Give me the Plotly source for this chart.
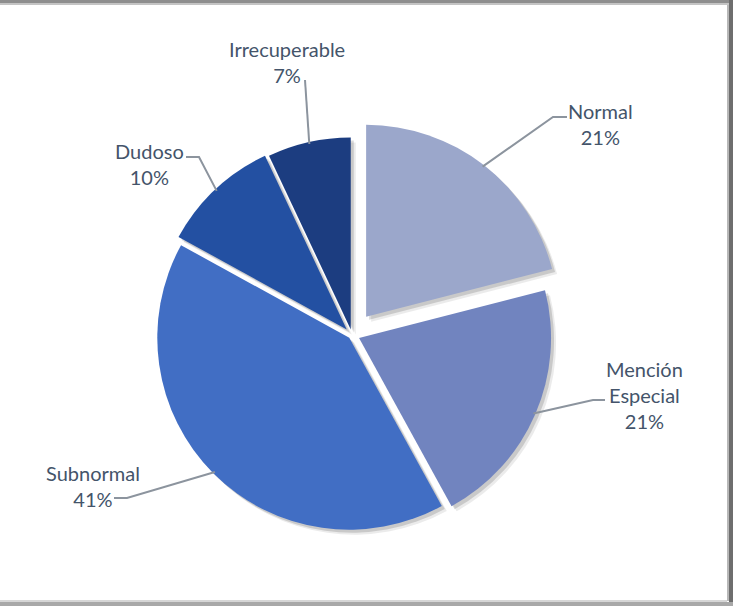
import math
import plotly.graph_objects as go

# data
categories = ["Normal", "Mención Especial", "Subnormal", "Dudoso", "Irrecuperable"]
label_text = ["Normal<br>21%", "Mención<br>Especial<br>21%", "Subnormal<br>41%", "Dudoso<br>10%", "Irrecuperable<br>7%"]
shares = [21, 21, 41, 10, 7]

colors = ["#9ba7cb", "#7184bf", "#416ec4", "#2350a2", "#1c3d80"]
pulls = [0.12, 0.04, 0.02, 0.04, 0.03]

W, H = 733, 606
CX, CY = 352, 335          # pie centre in pixels
R = 192                    # pie radius in pixels
maxpull = max(pulls)
half = R * (1 + maxpull)

def px(x):
    return x / W

def py(y):
    return 1 - y / H

dom_x = [px(CX - half), px(CX + half)]
dom_y = [py(CY + half), py(CY - half)]

fig = go.Figure()

# soft shadow behind the slices
for off, alpha in [(5, 0.08), (3, 0.14)]:
    fig.add_trace(go.Pie(
        values=shares, labels=categories, sort=False, direction="clockwise",
        rotation=0, pull=pulls, textinfo="none", hoverinfo="skip",
        marker=dict(colors=[f"rgba(0,0,0,{alpha})"] * len(shares), line=dict(width=0)),
        domain=dict(x=[px(CX - half + off), px(CX + half + off)],
                    y=[py(CY + half + off), py(CY - half + off)]),
        showlegend=False,
    ))

fig.add_trace(go.Pie(
    values=shares, labels=categories, sort=False, direction="clockwise",
    rotation=0, pull=pulls, textinfo="none",
    marker=dict(colors=colors, line=dict(width=0)),
    domain=dict(x=dom_x, y=dom_y),
    showlegend=False,
))

# label placement: text centre, start and elbow of the leader line
label_pos = {
    "Normal": dict(x=600, y=124, start=(567, 117), elbow=(553, 117)),
    "Mención Especial": dict(x=644, y=395, start=(605, 400), elbow=(593, 400)),
    "Subnormal": dict(x=93, y=486, start=(114, 498), elbow=(127, 498)),
    "Dudoso": dict(x=149, y=164, start=(186, 157), elbow=(199, 157)),
    "Irrecuperable": dict(x=287, y=62, start=(305, 80), elbow=(305, 80)),
}

total = sum(shares)
cum = 0
shapes = []
annotations = []
for cat, txt, v, p in zip(categories, label_text, shares, pulls):
    mid = (cum + v / 2) / total * 2 * math.pi
    cum += v
    rr = R * (1 + p) - 2
    ex = CX + rr * math.sin(mid)
    ey = CY - rr * math.cos(mid)
    lp = label_pos[cat]
    sx, sy = lp["start"]
    bx, by = lp["elbow"]
    shapes.append(dict(
        type="path", xref="paper", yref="paper",
        path=f"M {px(sx)} {py(sy)} L {px(bx)} {py(by)} L {px(ex)} {py(ey)}",
        line=dict(color="#8c949e", width=2),
    ))
    annotations.append(dict(
        text=txt, x=px(lp["x"]), y=py(lp["y"]), xref="paper", yref="paper",
        showarrow=False, xanchor="center", yanchor="middle",
        font=dict(family="Lato, Open Sans, sans-serif", size=20, color="#44546a"),
    ))

# frame shadow of the chart area
frame = [
    (0, 733, 0, 3, "#8e8e8e"),
    (0, 733, 3, 5, "#c4c4c4"),
    (729, 733, 0, 606, "#6e6e6e"),
    (727, 729, 5, 601, "#b8b8b8"),
    (0, 733, 602, 606, "#a8a8a8"),
    (0, 727, 600, 602, "#d6d6d6"),
]
for x0, x1, y0, y1, c in frame:
    shapes.append(dict(type="rect", xref="paper", yref="paper",
                       x0=px(x0), x1=px(x1), y0=py(y1), y1=py(y0),
                       fillcolor=c, line=dict(width=0), layer="above"))

fig.update_layout(
    width=W, height=H,
    margin=dict(l=0, r=0, t=0, b=0),
    paper_bgcolor="white", plot_bgcolor="white",
    shapes=shapes, annotations=annotations,
)

fig.write_html("out.html", config={"displayModeBar": False},
               post_script="document.body.style.margin='0';")
